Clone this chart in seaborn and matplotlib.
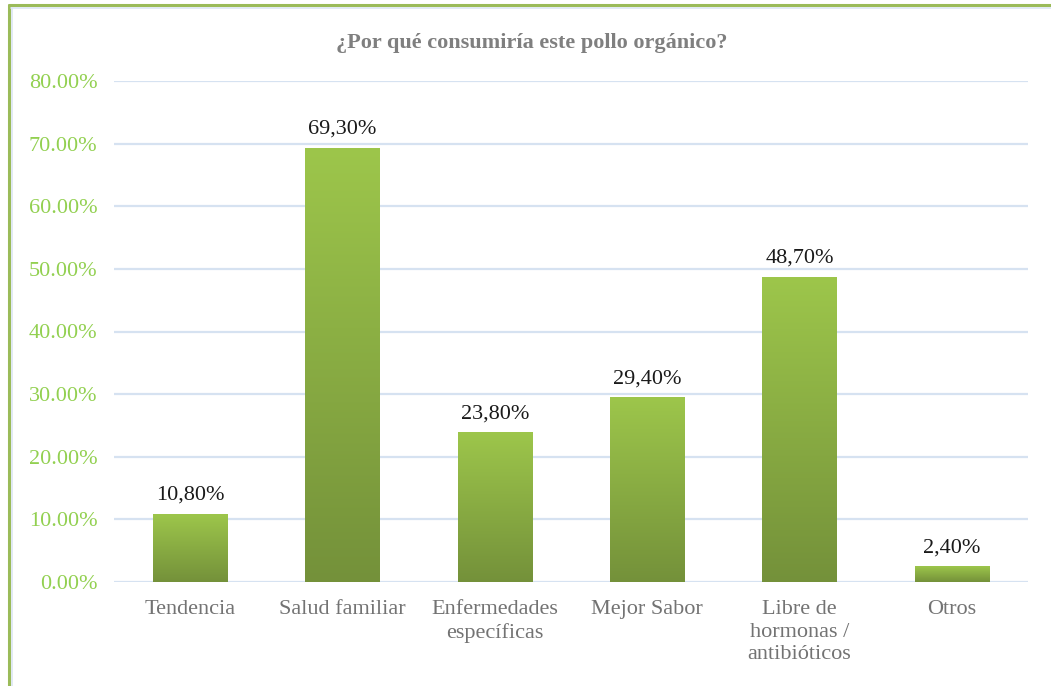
import numpy as np
import pandas as pd
import matplotlib
matplotlib.use("Agg")
import matplotlib.pyplot as plt
import seaborn as sns
from matplotlib.colors import LinearSegmentedColormap
from matplotlib.lines import Line2D

categories = ["Tendencia", "Salud familiar", "Enfermedades\nespecíficas", "Mejor Sabor",
              "Libre de\nhormonas /\nantibióticos", "Otros"]
values = [0.108, 0.693, 0.238, 0.294, 0.487, 0.024]
value_labels = ["10,80%", "69,30%", "23,80%", "29,40%", "48,70%", "2,40%"]
yticks = [0.0, 0.1, 0.2, 0.3, 0.4, 0.5, 0.6, 0.7, 0.8]
title = "¿Por qué consumiría este pollo orgánico?"

sns.set_theme(style="white")
plt.rcParams['font.family'] = ['Liberation Serif', 'DejaVu Serif']

fig = plt.figure(figsize=(10.51, 6.86), dpi=100)
ax = fig.add_axes([114/1051, 1-582/686, (1028-114)/1051, (582-81)/686])

df = pd.DataFrame({"cat": categories, "val": values})
sns.barplot(data=df, x="cat", y="val", ax=ax, color="#9BC34B", width=0.49, saturation=1)

ax.set_xlim(-0.5, len(categories)-0.5)
ax.set_ylim(0, 0.8)
ax.set_yticks(yticks)
ax.set_yticklabels([f"{t*100:.2f}%" for t in yticks])
ax.yaxis.grid(True, color="#D6E2F1", linewidth=1.6)
ax.set_axisbelow(True)
for s in ax.spines.values():
    s.set_visible(False)
ax.set_xlabel("")
ax.set_ylabel("")
ax.tick_params(axis="y", length=0, pad=12, labelsize=16, labelcolor="#92D050")
ax.tick_params(axis="x", length=0, pad=13, labelsize=16, labelcolor="#737373")
for lab in ax.get_xticklabels():
    lab.set_linespacing(1.25)

cmap = LinearSegmentedColormap.from_list("g", ["#74913A", "#9DC64B"])
grad = np.linspace(0, 1, 256).reshape(-1, 1)
for p, lbl in zip(ax.patches, value_labels):
    x0, y0 = p.get_x(), p.get_y()
    w, h = p.get_width(), p.get_height()
    p.set_facecolor("none")
    p.set_edgecolor("none")
    ax.imshow(grad, cmap=cmap, aspect="auto", origin="lower",
              extent=[x0, x0+w, y0, y0+h], zorder=2)
    ax.annotate(lbl, (x0 + w/2, y0 + h), xytext=(0, 7), textcoords="offset points",
                ha="center", va="bottom", fontsize=16, color="#1A1A1A")
ax.set_xlim(-0.5, len(categories)-0.5)
ax.set_ylim(0, 0.8)

fig.text(532/1051, 1-43/686, title, ha="center", va="center", fontsize=16,
         fontweight="bold", color="#7F7F7F")

# border
fig.add_artist(Line2D([9/1051, 1], [1-5/686, 1-5/686], color="#9BBB59", lw=2.2, transform=fig.transFigure))
fig.add_artist(Line2D([9/1051, 9/1051], [0, 1-5/686], color="#9BBB59", lw=2.2, transform=fig.transFigure))
fig.add_artist(Line2D([11/1051, 1], [1-7.5/686, 1-7.5/686], color="#DCE6F2", lw=1.2, transform=fig.transFigure))
fig.add_artist(Line2D([11.5/1051, 11.5/1051], [0, 1-7.5/686], color="#DCE6F2", lw=1.2, transform=fig.transFigure))

fig.savefig("out.png", dpi=100)
